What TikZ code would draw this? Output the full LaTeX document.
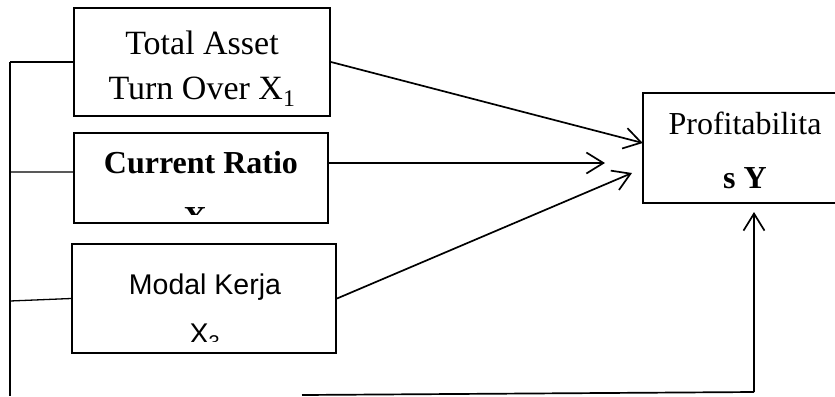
\documentclass[tikz,border=0pt]{standalone}
\usepackage{fontspec}
\setmainfont{Liberation Serif}
\newfontfamily\arialfont{Liberation Sans}
\usetikzlibrary{arrows.meta}

\tikzset{
  varbox/.style={draw, line width=2bp, inner sep=0pt},
  vartext/.style={inner sep=0pt, anchor=north, align=center},
  link/.style={line width=1.7bp},
  linkarrow/.style={link, -{Straight Barb[length=17bp,width=21bp,line width=1.7bp]}}
}

\begin{document}
\begin{tikzpicture}[x=1bp, y=-1bp]

\useasboundingbox (0,0) rectangle (835,396);
\clip (0,0) rectangle (835,396);

% boxes
\node[varbox, minimum width=256bp, minimum height=108bp] (tato) at (202,62) {};
\node[varbox, minimum width=254bp, minimum height=90bp] (cr) at (201,178) {};
\node[varbox, minimum width=264bp, minimum height=109bp] (mk) at (204,298.5) {};
% Y box runs past the right edge of the page
\node[inner sep=0pt, minimum width=240bp, minimum height=110bp] (prof) at (763,148) {};
\draw[line width=2bp] (prof.north east) -- (prof.north west) -- (prof.south west) -- (prof.south east);

% texts
\node[vartext, font=\fontsize{34bp}{45bp}\selectfont] (tatotext) at (202,31)
  {Total Asset\\Turn Over X\textsubscript{1}};
\begin{scope}
  \clip (74,133) rectangle (328,214);
  \node[vartext, font=\bfseries\fontsize{32bp}{55bp}\selectfont] (crtext) at (201,151)
    {Current Ratio\\X\textsubscript{2}};
\end{scope}
\begin{scope}
  \clip (72,244) rectangle (336,341);
  \node[vartext, font=\arialfont\fontsize{28.5bp}{49bp}\selectfont] (mktext) at (205,274)
    {Modal Kerja\\X\textsubscript{3}};
\end{scope}
\node[vartext, font=\fontsize{32bp}{54bp}\selectfont] (proftext) at (745,112)
  {Profitabilita\\\textbf{s Y}};

% arrows to Y
\coordinate (crend) at (605,163);
\coordinate (mkend) at (632,173);
\draw[linkarrow] (tato.east) -- ([yshift=5bp]prof.west);
\draw[linkarrow] ([yshift=15bp]cr.east) -- (crend);
\draw[linkarrow] (mk.east) -- (mkend);

% left bus
\coordinate (bustop) at (10,62);
\coordinate (busbot) at (10,396);
\draw[line width=1.3bp] (bustop) -- (busbot);
\draw[line width=1.3bp] (bustop) -- (tato.west);
\draw[line width=1.3bp] (10,172) -- ([yshift=6bp]cr.west);
\draw[line width=1.3bp] (10,301) -- (mk.west);

% bottom line
\coordinate (botstart) at (302,395);
\coordinate (botcorner) at (754,392);
\coordinate (botend) at (754,212);
\draw[link] (botstart) -- (botcorner);
\draw[linkarrow] (botcorner) -- (botend);

\end{tikzpicture}
\end{document}
